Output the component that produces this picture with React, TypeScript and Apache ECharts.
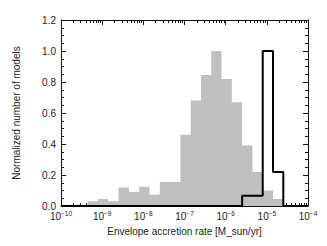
import React, { useEffect, useRef } from "react";
import * as echarts from "echarts";

// bin edges (log10 of accretion rate, M_sun/yr)
const binEdgesExp = [
  -9.85, -9.6, -9.35, -9.1, -8.85, -8.6, -8.35, -8.1, -7.85, -7.6, -7.35,
  -7.1, -6.85, -6.6, -6.35, -6.1, -5.85, -5.6, -5.35, -5.1, -4.85, -4.6,
];
// gray filled histogram (normalized number of models)
const modelFraction = [
  0.008, 0.01, 0.03, 0.045, 0.03, 0.12, 0.09, 0.125, 0.075, 0.155, 0.155,
  0.46, 0.68, 0.845, 1.0, 0.82, 0.67, 0.39, 0.22, 0.1, 0.045,
];
// black outlined histogram
const outlineFraction = [
  0, 0, 0, 0, 0, 0, 0, 0, 0, 0, 0,
  0, 0, 0, 0, 0, 0, 0.066, 0.066, 1.0, 0.22,
];
const xRange = [1e-10, 1e-4];
const yTickLabels = ["0.0", "0.2", "0.4", "0.6", "0.8", "1.0", "1.2"];

const FONT = "'Liberation Sans', Arial, Helvetica, sans-serif";
const TXT = "#222";
const AX = "#111";

export default function App() {
  const ref = useRef<HTMLDivElement>(null);
  useEffect(() => {
    const chart = echarts.init(ref.current!, null, { renderer: "svg" });
    const grayData: number[][] = modelFraction.map((v, i) => [Math.pow(10, binEdgesExp[i]), v]);
    grayData.push([Math.pow(10, binEdgesExp[binEdgesExp.length - 1]), 0]);

    const lineData: number[][] = [[xRange[0], 0]];
    outlineFraction.forEach((v, i) => lineData.push([Math.pow(10, binEdgesExp[i]), v]));
    lineData.push([Math.pow(10, binEdgesExp[binEdgesExp.length - 1]), 0]);
    lineData.push([xRange[1], 0]);

    const xCommon = {
      type: "log" as const,
      logBase: 10,
      min: xRange[0],
      max: xRange[1],
      axisLine: { show: true, onZero: false, lineStyle: { color: AX, width: 1 } },
      axisTick: { show: true, inside: true, length: 5, lineStyle: { color: AX, width: 1 } },
      minorTick: { show: true, splitNumber: 9, length: 3, lineStyle: { color: AX, width: 1 } },
      splitLine: { show: false },
      minorSplitLine: { show: false },
    };
    const yCommon = {
      type: "value" as const,
      min: 0,
      max: 1.2,
      interval: 0.2,
      axisLine: { show: true, onZero: false, lineStyle: { color: AX, width: 1 } },
      axisTick: { show: true, inside: true, length: 5, lineStyle: { color: AX, width: 1 } },
      minorTick: { show: true, splitNumber: 4, length: 3, lineStyle: { color: AX, width: 1 } },
      splitLine: { show: false },
      minorSplitLine: { show: false },
    };

    chart.setOption({
      animation: false,
      backgroundColor: "#fff",
      grid: { left: 61, right: 19, top: 20, bottom: 40, outerBoundsMode: "none", containLabel: false },
      xAxis: [
        {
          ...xCommon,
          position: "bottom",
          name: "Envelope accretion rate [M_sun/yr]",
          nameLocation: "middle",
          nameGap: 20,
          nameTextStyle: { fontFamily: FONT, fontSize: 10, color: TXT },
          axisLabel: {
            show: true,
            margin: 4,
            fontFamily: FONT,
            fontSize: 10,
            color: TXT,
            formatter: (val: number) => {
              const e = Math.round(Math.log10(val));
              return "10{sup|" + String(e).replace("-", "\u2212") + "}";
            },
            rich: {
              sup: { fontFamily: FONT, fontSize: 6.5, color: TXT, padding: [0, 0, 6, 0] },
            },
          },
        },
        { ...xCommon, position: "top", axisLabel: { show: false } },
      ],
      yAxis: [
        {
          ...yCommon,
          position: "left",
          name: "Normalized number of models",
          nameLocation: "middle",
          nameGap: 40,
          nameRotate: 90,
          nameTextStyle: { fontFamily: FONT, fontSize: 10, color: TXT },
          axisLabel: {
            show: true,
            margin: 5,
            fontFamily: FONT,
            fontSize: 10,
            color: TXT,
            formatter: (v: number) => yTickLabels[Math.round(v / 0.2)] ?? "",
          },
        },
        { ...yCommon, position: "right", axisLabel: { show: false } },
      ],
      series: [
        {
          type: "line",
          xAxisIndex: 0,
          yAxisIndex: 0,
          step: "end",
          data: grayData,
          symbol: "none",
          lineStyle: { width: 0, color: "#bfbfbf" },
          areaStyle: { color: "#bfbfbf", opacity: 1 },
          z: 2,
        },
        {
          type: "line",
          xAxisIndex: 0,
          yAxisIndex: 0,
          step: "end",
          data: lineData,
          symbol: "none",
          lineStyle: { color: "#000", width: 2 },
          z: 3,
        },
      ],
    });
    return () => chart.dispose();
  }, []);
  return (
    <div
      ref={ref}
      style={{ position: "fixed", left: 0, top: 0, width: 327, height: 246, background: "#fff" }}
    />
  );
}
